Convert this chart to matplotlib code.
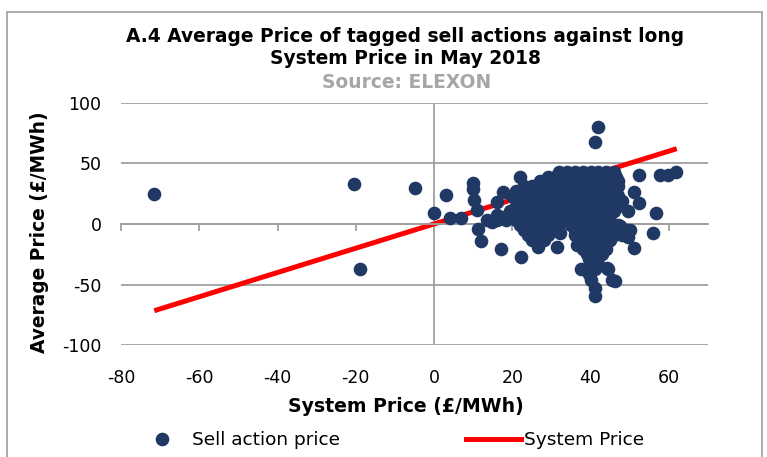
import matplotlib
matplotlib.use("Agg")
import matplotlib.pyplot as plt
from matplotlib.lines import Line2D
from matplotlib.patches import Rectangle

plt.rcParams['font.family'] = ['DejaVu Sans']
plt.rcParams['axes.unicode_minus'] = False

# Preço do sistema (linha de referência y = x)
system_price = [-71.5, 62]

# Pontos isolados fora do aglomerado
sell_x = [-71.5, -20.5, -5, 3, 0, -19, 4, 7, 10, 10, 10.3, 11, 11.2, 12, 17, 22.2,
          17.7, 16, 26.5, 31.3, 52.3, 57.7, 59.8, 61.8, 51.2, 52.3, 49.5, 56.6,
          55.9, 51.2, 42, 41, 32.2, 44.2, 46.2, 43, 14.8, 47.6, 50, 49.6]
sell_y = [25, 33, 30, 24, 9, -37, 5, 5, 33.5, 29, 20, 11.5, -4.4, -14, -20.6, -27,
          26.6, 18, -18.7, -18.7, 40.4, 40.4, 40.5, 43, 26.6, 17.5, 11, 8.8,
          -7.7, -20, 80, 67.5, -7.6, -36.5, -46.7, -24, 2, -2, -5, -10.5]

# Aglomerado principal, linha a linha (preço médio: lista de preços do sistema)
cluster = {
    43: [32, 34, 36, 38, 40, 42, 44, 46],
    39: [22, 29, 31, 33, 35, 37, 39, 41, 43, 45, 46.5],
    35: [27, 29, 31, 33, 35, 37, 39, 41, 43, 45, 47],
    31: [23, 25, 27, 29, 31, 33, 35, 37, 39, 41, 43, 45, 47],
    27: [21, 24, 26, 28, 30, 32, 34, 36, 38, 40, 42, 44, 46.5],
    23: [20, 23, 25, 27, 29, 31, 33, 35, 37, 39, 41, 43, 45, 47],
    19: [22, 24, 26, 28, 30, 32, 34, 36, 38, 40, 42, 44, 46, 48],
    15: [21, 23, 25, 27, 29, 31, 33, 35, 37, 39, 41, 43, 45, 47],
    11: [19.5, 22, 24, 26, 28, 30, 32, 34, 36, 38, 40, 42, 44, 46],
    7: [16, 19, 21, 23, 25, 27, 29, 31, 33, 35, 37, 39, 41, 43, 45],
    3: [13.5, 16, 18.5, 21, 23, 25, 27, 29, 31, 33, 35, 37, 39, 41, 43, 44.5],
    -1: [22, 24, 26, 28, 30, 32, 35, 37, 39, 41, 43, 44.5, 47],
    -5: [23, 25, 27, 29, 31, 36, 38, 40, 42, 44, 49],
    -9: [24, 26.5, 29, 36, 38, 40, 42, 44, 46, 48],
    -13: [25, 28, 37, 39, 41, 43, 45],
    -17: [36.5, 38.5, 40.5, 42.5, 44],
    -21: [38, 40, 42, 44],
    -25: [39, 41, 43],
    -29: [39.5, 41.5],
    -33: [40, 42],
    -37: [37.5, 41, 44.5],
    -41: [39.5],
    -46: [40, 45.5],
    -53: [41],
    -59: [41.2],
}
for avg, xs in cluster.items():
    sell_x += xs
    sell_y += [avg] * len(xs)

navy = '#203864'
grid_gray = '#a0a0a0'

fig = plt.figure(figsize=(7.67, 4.57), dpi=100)
ax = fig.add_axes([121 / 767, 1 - 345.3 / 457, 587 / 767, 242.7 / 457])

ax.plot(system_price, system_price, color='#ff0000', lw=3.6, solid_capstyle='butt', zorder=2)
ax.plot(sell_x, sell_y, 'o', color=navy, markersize=8.8, zorder=3)

ax.set_xlim(-80, 70)
ax.set_ylim(-100, 100)
ax.set_yticks([-100, -50, 0, 50, 100])
ax.set_xticks(range(-80, 61, 20))

for s in ['top', 'right', 'left']:
    ax.spines[s].set_visible(False)
ax.spines['bottom'].set_position(('data', 0))
ax.spines['bottom'].set_color(grid_gray)
ax.spines['bottom'].set_linewidth(1.3)
ax.tick_params(axis='x', direction='out', length=5, width=1.3, color=grid_gray, labelbottom=False)
ax.tick_params(axis='y', length=0, pad=14, labelsize=12.5)
ax.yaxis.grid(True, color=grid_gray, lw=1.3, zorder=0)
ax.set_axisbelow(True)
ax.axvline(0, color=grid_gray, lw=1.3, zorder=1)

sec = ax.secondary_xaxis('bottom')
sec.set_xticks(range(-80, 61, 20))
sec.spines['bottom'].set_visible(False)
sec.tick_params(length=0, pad=17, labelsize=12.5)

fig.text(0.528, 1 - 37 / 457, 'A.4 Average Price of tagged sell actions against long',
         ha='center', va='center', fontsize=13.4, fontweight='bold')
fig.text(0.528, 1 - 59 / 457, 'System Price in May 2018',
         ha='center', va='center', fontsize=13.4, fontweight='bold')
fig.text(0.53, 1 - 83 / 457, 'Source: ELEXON', ha='center', va='center',
         fontsize=13.4, fontweight='bold', color='#a6a6a6')

fig.text(406 / 767, 1 - 406 / 457, 'System Price (£/MWh)', ha='center', va='center',
         fontsize=13.6, fontweight='bold')
fig.text(40 / 767, 1 - 232 / 457, 'Average Price (£/MWh)', ha='center', va='center',
         rotation=90, fontsize=13.4, fontweight='bold')

handles = [Line2D([], [], ls='none', marker='o', color=navy, markersize=8.8),
           Line2D([], [], color='#ff0000', lw=3.6)]
fig.legend(handles, ['Sell action price', 'System Price'], loc='center',
           bbox_to_anchor=(389 / 767, 1 - 440 / 457), ncol=2, frameon=False,
           fontsize=13.3, handlelength=3.0, handletextpad=0.15, columnspacing=6.8)

fig.add_artist(Rectangle((7 / 767, -0.1), 755 / 767, 1.1 - 12 / 457, transform=fig.transFigure,
                         fill=False, edgecolor='#a6a6a6', lw=1.3, clip_on=False))

fig.savefig('out.png', dpi=100)
